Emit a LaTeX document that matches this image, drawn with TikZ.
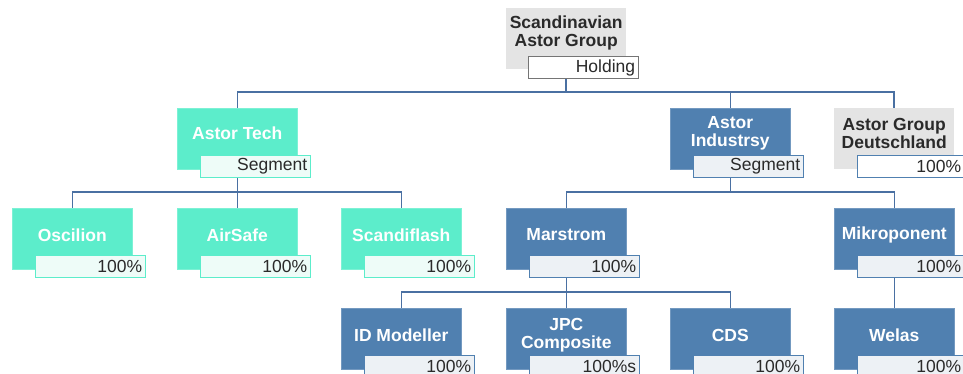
\documentclass[tikz,border=0pt]{standalone}
\usepackage{fontspec}
\setmainfont{Liberation Sans}
\usetikzlibrary{backgrounds}
\definecolor{teal}{HTML}{5CEDCB}
\definecolor{tealL}{HTML}{EEFCF8}
\definecolor{blu}{HTML}{5080B0}
\definecolor{bluL}{HTML}{EDF1F5}
\definecolor{gry}{HTML}{E4E4E4}
\definecolor{gryB}{HTML}{757575}
\definecolor{conn}{HTML}{4A70A2}
\definecolor{txt}{HTML}{2A2A2A}
\tikzset{
  x=1pt, y=-1pt,
  box/.style={anchor=north west, minimum width=120pt, minimum height=61pt, inner sep=0pt, draw=none},
  tbox/.style={box, fill=teal, draw=teal!80!white, line width=0.6pt},
  bbox/.style={box, fill=blu, draw=blu!80!white, line width=0.6pt},
  gbox/.style={box, fill=gry},
  btxt/.style={font=\bfseries\fontsize{17.5}{18}\selectfont, text=white, align=center},
  dtxt/.style={btxt, text=txt},
  lab/.style={anchor=north west, minimum height=22pt, text width=103pt, align=right, inner xsep=3.5pt, inner ysep=0pt, line width=1.4pt, font=\fontsize{17.5}{18}\selectfont, text=txt},
  edge/.style={text width=100pt},
  tlab/.style={lab, fill=tealL, draw=teal},
  blab/.style={lab, fill=bluL, draw=blu},
  hlab/.style={lab, fill=white, draw=gryB},
  dlab/.style={lab, fill=white, draw=blu},
  cn/.style={draw=conn, line width=1.6pt},
}
\begin{document}
\begin{tikzpicture}
\useasboundingbox (0,0) rectangle (963,374);
\path
  (506,8) node[gbox] (root) {}
  (177,108) node[tbox] (tech) {}
  (670,108) node[bbox] (indus) {}
  (834,108) node[gbox] (deut) {}
  (12,208) node[tbox] (osc) {}
  (177,208) node[tbox] (air) {}
  (341,208) node[tbox] (scand) {}
  (506,208) node[bbox] (mars) {}
  (834,208) node[bbox] (mikro) {}
  (341,308) node[bbox] (idm) {}
  (506,308) node[bbox] (jpc) {}
  (670,308) node[bbox] (cds) {}
  (834,308) node[bbox] (welas) {};
% connectors behind the boxes
\begin{scope}[on background layer]
\draw[cn] (root.south) |- ([yshift=16pt]tech.north) -- (tech.north);
\draw[cn] (root.south) |- ([yshift=16pt]indus.north) -- (indus.north);
\draw[cn] (root.south) |- ([yshift=16pt]deut.north) -- (deut.north);
\draw[cn] (tech.south) |- ([yshift=16pt]osc.north) -- (osc.north);
\draw[cn] (tech.south) -- (air.north);
\draw[cn] (tech.south) |- ([yshift=16pt]scand.north) -- (scand.north);
\draw[cn] (indus.south) |- ([yshift=16pt]mars.north) -- (mars.north);
\draw[cn] (indus.south) |- ([yshift=16pt]mikro.north) -- (mikro.north);
\draw[cn] (mars.south) |- ([yshift=16pt]idm.north) -- (idm.north);
\draw[cn] (mars.south) -- (jpc.north);
\draw[cn] (mars.south) |- ([yshift=16pt]cds.north) -- (cds.north);
\draw[cn] (mikro.south) -- (welas.north);
\end{scope}
% names
\node[dtxt] (rootT) at ([yshift=-25pt]root.north) {Scandinavian\\Astor Group};
\node[btxt] (techT) at ([yshift=-25pt]tech.north) {Astor Tech};
\node[btxt] (indusT) at ([yshift=-25pt]indus.north) {Astor\\Industrsy};
\node[dtxt] (deutT) at ([yshift=-25pt]deut.north) {Astor Group\\Deutschland};
\node[btxt] (oscT) at ([yshift=-27pt]osc.north) {Oscilion};
\node[btxt] (airT) at ([yshift=-27pt]air.north) {AirSafe};
\node[btxt] (scandT) at ([yshift=-27pt]scand.north) {Scandiflash};
\node[btxt] (marsT) at ([yshift=-27pt]mars.north) {Marstrom};
\node[btxt] (mikroT) at ([yshift=-27pt]mikro.north) {Mikroponent};
\node[btxt] (idmT) at ([yshift=-27pt]idm.north) {ID Modeller};
\node[btxt] (jpcT) at ([yshift=-27pt]jpc.north) {JPC\\Composite};
\node[btxt] (cdsT) at ([yshift=-27pt]cds.north) {CDS};
\node[btxt] (welasT) at ([yshift=-27pt]welas.north) {Welas};
% labels
\node[hlab] (rootL) at ([shift={(22,48)}]root.north west) {Holding};
\node[tlab] (techL) at ([shift={(23,47)}]tech.north west) {Segment};
\node[blab] (indusL) at ([shift={(23,47)}]indus.north west) {Segment};
\node[dlab, edge] (deutL) at ([shift={(23,47)}]deut.north west) {100\%};
\node[tlab] (oscL) at ([shift={(23,47)}]osc.north west) {100\%};
\node[tlab] (airL) at ([shift={(23,47)}]air.north west) {100\%};
\node[tlab] (scandL) at ([shift={(23,47)}]scand.north west) {100\%};
\node[blab] (marsL) at ([shift={(23,47)}]mars.north west) {100\%};
\node[blab, edge] (mikroL) at ([shift={(23,47)}]mikro.north west) {100\%};
\node[blab] (idmL) at ([shift={(23,47)}]idm.north west) {100\%};
\node[blab] (jpcL) at ([shift={(23,47)}]jpc.north west) {100\%s};
\node[blab] (cdsL) at ([shift={(23,47)}]cds.north west) {100\%};
\node[blab, edge] (welasL) at ([shift={(23,47)}]welas.north west) {100\%};
\end{tikzpicture}
\end{document}
